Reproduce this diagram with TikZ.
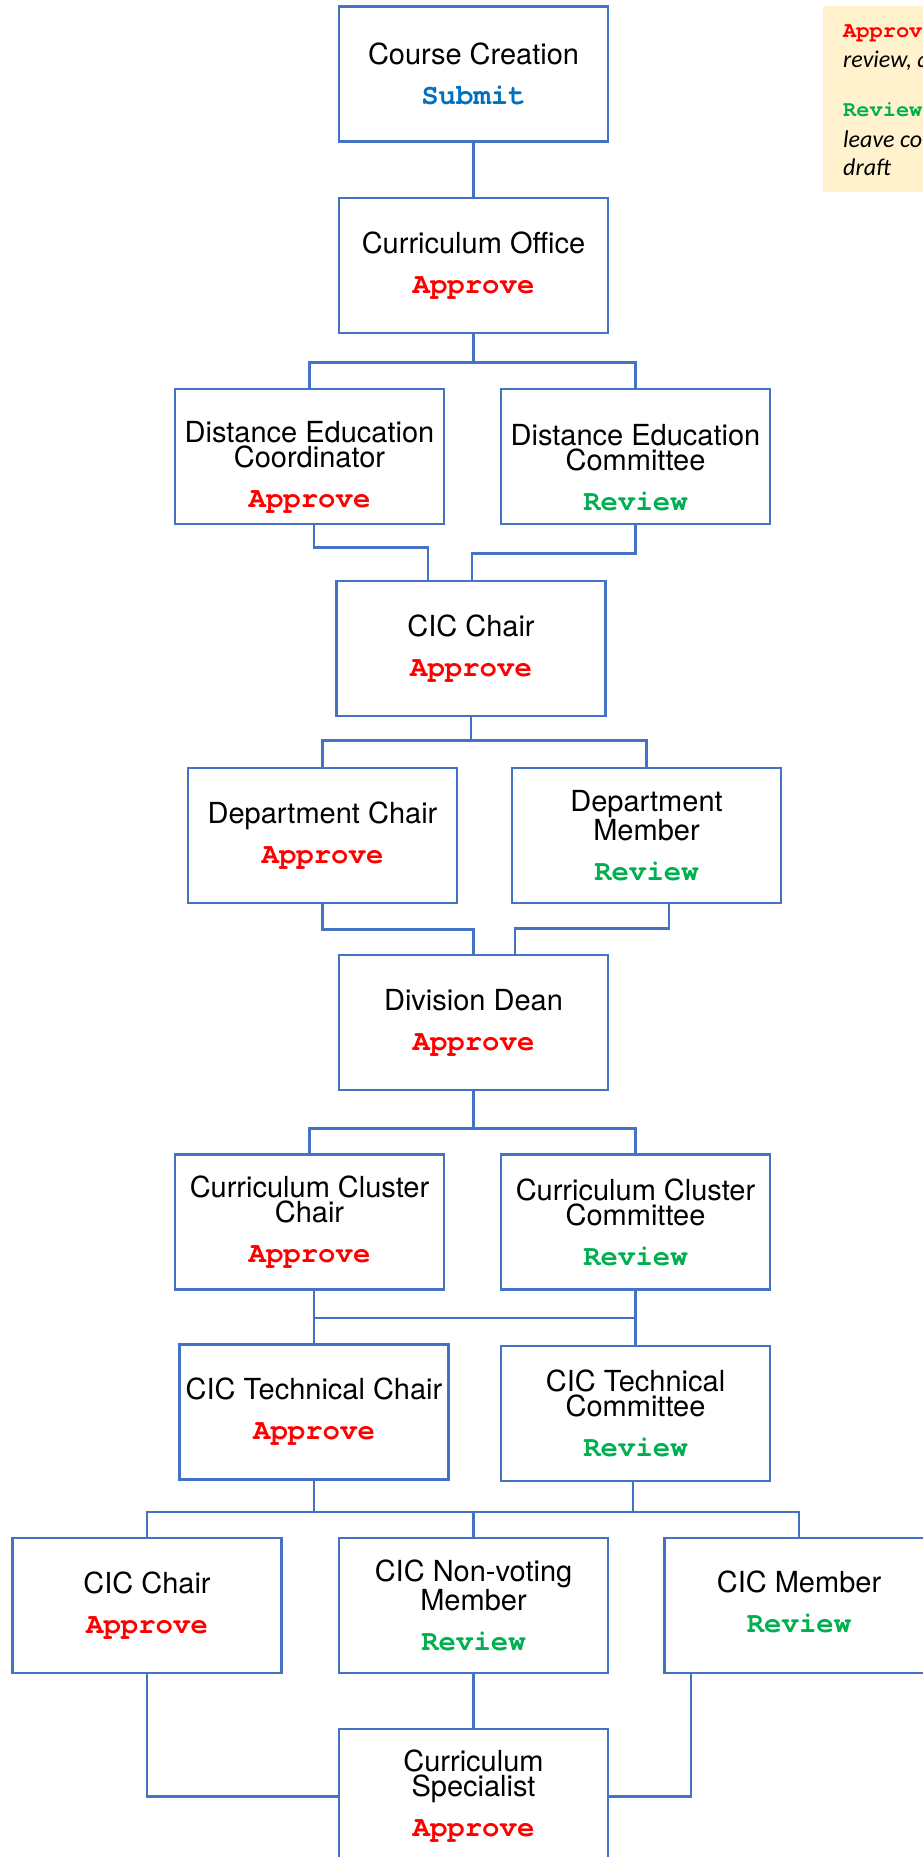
\documentclass[tikz,border=0pt]{standalone}
\usepackage{fontspec}
\setmainfont{TeX Gyre Heros}
\newfontfamily\actfont{TeX Gyre Cursor}
\newfontfamily\legfont{Carlito}
\usetikzlibrary{calc}
\definecolor{linec}{HTML}{4472C4}
\definecolor{apr}{HTML}{FF0000}
\definecolor{rev}{HTML}{00B050}
\definecolor{subc}{HTML}{0070C0}
\definecolor{legbg}{HTML}{FFF2CC}
\newcommand\Appr{{\actfont\bfseries\color{apr}Approve}}
\newcommand\Rev{{\actfont\bfseries\color{rev}Review}}
\newcommand\Subm{{\actfont\bfseries\color{subc}Submit}}
\tikzset{
  box/.style={draw=linec, line width=2.8pt, fill=white, minimum width=269pt, minimum height=135pt,
    inner sep=0pt, align=center, font=\fontsize{29}{25}\selectfont},
  boxtxt/.style={inner sep=0pt, align=center, font=\fontsize{29}{25}\selectfont},
  conn/.style={draw=linec, line width=2.8pt},
  legtxt/.style={anchor=base west, inner sep=0pt, font=\fontsize{22}{26}\selectfont},
}
\begin{document}
\begin{tikzpicture}[x=1pt,y=-1pt]
\useasboundingbox (0,0) rectangle (923,1857);
\clip (0,0) rectangle (923,1857);
% legend
\node[fill=legbg, anchor=north west, minimum width=140pt, minimum height=186pt, inner sep=0pt] (leg) at (823,6) {};
\node[legtxt] (l1) at (843,38) {\actfont\bfseries\color{apr}Approve:};
\node[legtxt] (l2) at (843,68) {\legfont\itshape\fontsize{24}{26}\selectfont review, approve,};
\node[legtxt] (l3) at (843,117) {\actfont\bfseries\color{rev}Review:};
\node[legtxt] (l4) at (843,147) {\legfont\itshape\fontsize{24}{26}\selectfont leave comments,};
\node[legtxt] (l5) at (843,175) {\legfont\itshape\fontsize{24}{26}\selectfont draft};
% boxes
\node[box] (cc) at (473.5,74) {Course Creation\\[15pt]\Subm};
\node[box] (co) at (473.5,265.5) {Curriculum Office\\[15pt]\Appr};
\node[box] (dec) at (309.5,456.5) {};
\node[boxtxt] (dect) at ($(dec)+(0,11)$) {Distance Education\\Coordinator\\[15pt]\Appr};
\node[box] (decom) at (635.5,456.5) {};
\node[boxtxt] (decomt) at ($(decom)+(0,11)$) {Distance Education\\Committee\\[15pt]\Rev};
\node[box] (cic1) at (471,648.5) {CIC Chair\\[15pt]\Appr};
\node[box] (dch) at (322.5,835.5) {Department Chair\\[15pt]\Appr};
\node[box] (dmem) at (646.5,835.5) {Department\\Member\\[15pt]\Rev};
\node[box] (dd) at (473.5,1022.5) {Division Dean\\[15pt]\Appr};
\node[box] (ccc) at (309.5,1222) {Curriculum Cluster\\Chair\\[15pt]\Appr};
\node[box] (cccom) at (635.5,1222) {Curriculum Cluster\\Committee\\[15pt]\Rev};
\node[box] (tch) at (314,1412) {CIC Technical Chair\\[15pt]\Appr};
\node[box] (tcom) at (635.5,1413.5) {CIC Technical\\Committee\\[15pt]\Rev};
\node[box] (cic2) at (147,1605.5) {CIC Chair\\[15pt]\Appr};
\node[box] (nv) at (473.5,1605.5) {CIC Non-voting\\Member\\[15pt]\Rev};
\node[box] (mem) at (799,1605.5) {};
\node[boxtxt] (memt) at ($(mem)+(0,-4)$) {CIC Member\\[15pt]\Rev};
\node[box] (cs) at (473.5,1796.5) {Curriculum\\Specialist\\[15pt]\Appr};
% connectors
\draw[conn] (cc.south) -- (co.north);
\draw[conn] (co.south) -- ++(0,28) coordinate (j1) -| (dec.north);
\draw[conn] (j1) -| (decom.north);
\draw[conn] ($(dec.south)+(4.5,0)$) -- ++(0,22) -| ($(cic1.north)+(-43,0)$);
\draw[conn] (decom.south) -- ++(0,28) -| ($(cic1.north)+(1,0)$);
\draw[conn] (cic1.south) -- ++(0,23) coordinate (j2) -| (dch.north);
\draw[conn] (j2) -| (dmem.north);
\draw[conn] (dch.south) -- ++(0,25) -| (dd.north);
\draw[conn] ($(dmem.south)+(22.5,0)$) -- ++(0,24) -| ($(dd.north)+(41.5,0)$);
\draw[conn] (dd.south) -- ++(0,37) coordinate (j3) -| (ccc.north);
\draw[conn] (j3) -| (cccom.north);
\draw[conn] (cccom.south) -- (tcom.north);
\draw[conn] ($(ccc.south)+(4.5,0)$) -- (tch.north);
\draw[conn] ($(ccc.south)+(4.5,27)$) coordinate (j4) -- (j4 -| cccom.south);
\draw[conn] (tch.south) -- ++(0,31) coordinate (j5);
\draw[conn] ($(tcom.south)+(-2.5,0)$) coordinate (t5) -- (t5 |- j5);
\draw[conn] (j5) -| (cic2.north);
\draw[conn] (j5) -| (mem.north);
\draw[conn] (j5 -| nv.north) -- (nv.north);
\draw[conn] (cic2.south) |- (cs.west);
\draw[conn] (nv.south) -- (cs.north);
\draw[conn] ($(mem.south)+(-108,0)$) |- (cs.east);
\end{tikzpicture}
\end{document}
